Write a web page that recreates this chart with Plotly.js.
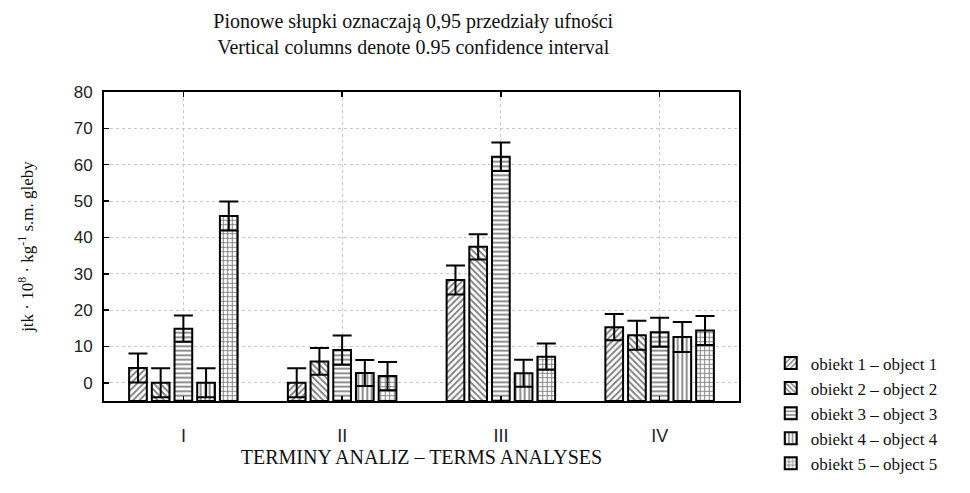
<!DOCTYPE html>
<html>
<head>
<meta charset="utf-8">
<script src="https://cdn.plot.ly/plotly-3.0.1.min.js"></script>
<style>html,body{margin:0;padding:0;background:#fff}#chart{width:970px;height:493px}</style>
</head>
<body>
<div id="chart"></div>
<script>
const categories = ['I', 'II', 'III', 'IV'];
const seriesNames = ['obiekt 1 – object 1', 'obiekt 2 – object 2', 'obiekt 3 – object 3', 'obiekt 4 – object 4', 'obiekt 5 – object 5'];
const obj1 = [4.1, 0, 28.3, 15.3];
const obj2 = [0, 5.9, 37.4, 13.1];
const obj3 = [14.9, 9.0, 62.2, 13.9];
const obj4 = [0, 2.7, 2.65, 12.6];
const obj5 = [45.9, 1.85, 7.2, 14.4];
const obj1Ci = [4.0, 4.0, 4.0, 3.6];
const obj2Ci = [4.0, 3.7, 3.5, 4.0];
const obj3Ci = [3.6, 4.0, 3.9, 4.0];
const obj4Ci = [4.0, 3.6, 3.7, 4.1];
const obj5Ci = [4.0, 3.9, 3.6, 4.0];
const yTicks = [0, 10, 20, 30, 40, 50, 60, 70, 80];
const yFloor = -5;

const means = [obj1, obj2, obj3, obj4, obj5];
const cis = [obj1Ci, obj2Ci, obj3Ci, obj4Ci, obj5Ci];
const shapes = ['/', '\\', '-', '|', '+'];

const traces = means.map((m, i) => ({
  type: 'bar',
  name: seriesNames[i],
  x: categories,
  y: m.map(v => v - yFloor),
  base: yFloor,
  marker: {
    color: '#ffffff',
    line: {color: '#000', width: 2},
    pattern: {shape: shapes[i], fgcolor: '#000', bgcolor: '#fff', size: 4.5, solidity: 0.4, fillmode: 'overlay'}
  },
  error_y: {type: 'data', array: cis[i], visible: true, color: '#000', thickness: 2, width: 9.5}
}));

const layout = {
  width: 970, height: 493,
  paper_bgcolor: '#fff', plot_bgcolor: '#fff',
  margin: {l: 104, r: 231, t: 92, b: 80},
  barmode: 'group', bargap: 0.285, bargroupgap: 0.22,
  font: {family: 'Liberation Serif, Times New Roman, serif', size: 15, color: '#111'},
  title: {
    text: 'Pionowe słupki oznaczają 0,95 przedziały ufności<br>Vertical columns denote 0.95 confidence interval',
    font: {family: 'Liberation Serif, serif', size: 20, color: '#111'},
    xref: 'paper', x: 0.487, xanchor: 'center',
    yref: 'container', y: 0.943, yanchor: 'middle'
  },
  xaxis: {
    type: 'category',
    showline: true, linecolor: '#000', linewidth: 2, mirror: 'ticks',
    ticks: 'inside', ticklen: 5, tickwidth: 1.5, tickcolor: '#000',
    showgrid: true, gridcolor: '#c8c8c8', griddash: 'dot', gridwidth: 1,
    tickfont: {family: 'Liberation Sans, Arial, sans-serif', size: 18, color: '#222'},
    ticklabelstandoff: 17,
    title: {text: 'TERMINY ANALIZ – TERMS ANALYSES', font: {family: 'Liberation Serif, serif', size: 20, color: '#111'}, standoff: 3}
  },
  yaxis: {
    range: [yFloor, 80], tickvals: yTicks,
    showline: true, linecolor: '#000', linewidth: 2, mirror: true,
    ticks: 'inside', ticklen: 5, tickwidth: 1.5, tickcolor: '#000',
    showgrid: true, gridcolor: '#c8c8c8', griddash: 'dot', gridwidth: 1,
    zeroline: false,
    tickfont: {family: 'Liberation Sans, Arial, sans-serif', size: 17, color: '#222'},
    ticklabelstandoff: 6,
    title: {text: 'jtk · 10<sup>8</sup> · kg<sup>-1</sup> s.m. gleby', font: {family: 'Liberation Serif, serif', size: 17, color: '#111'}, standoff: 36}
  },
  yaxis2: {
    overlaying: 'y', side: 'right', anchor: 'x',
    range: [-10.25, 89.45], dtick: 10, tick0: 0,
    showline: false, showgrid: false, zeroline: false,
    ticks: 'inside', ticklen: 5, tickwidth: 1.5, tickcolor: '#000',
    showticklabels: false
  },
  showlegend: true,
  legend: {
    x: 1.05, xanchor: 'left', xref: 'paper',
    y: 0.18, yanchor: 'top', yref: 'paper',
    font: {family: 'Liberation Serif, serif', size: 17, color: '#111'},
    tracegroupgap: 0, itemwidth: 30, bgcolor: 'rgba(0,0,0,0)'
  }
};

Plotly.newPlot('chart', traces, layout, {staticPlot: true, displayModeBar: false});
</script>
</body>
</html>
